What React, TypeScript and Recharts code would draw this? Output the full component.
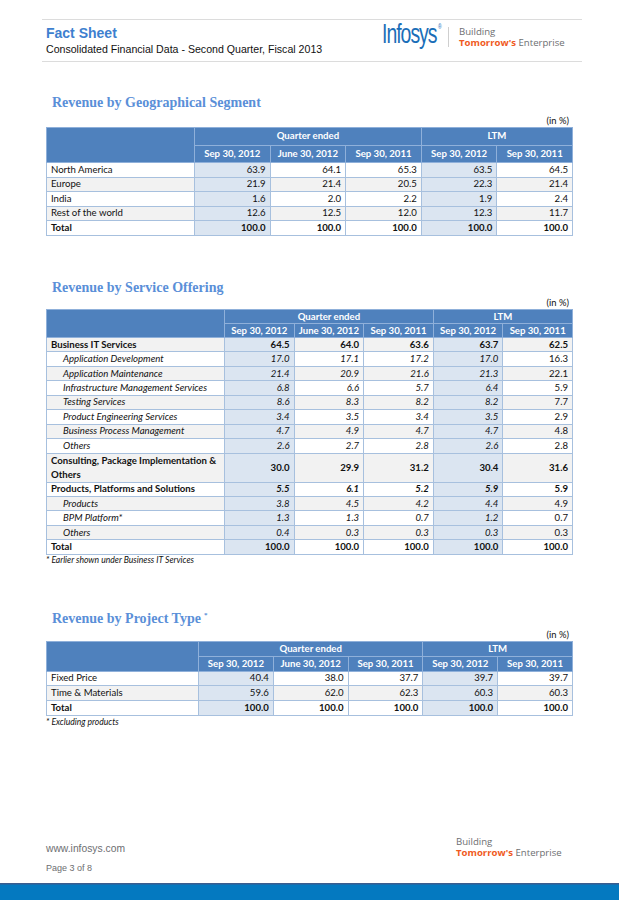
import React from 'react'
import { Surface, Rectangle } from 'recharts'

const PERIOD_GROUPS = ['Quarter ended', 'LTM']
const PERIODS = ['Sep 30, 2012', 'June 30, 2012', 'Sep 30, 2011', 'Sep 30, 2012', 'Sep 30, 2011']

const GEO_LABELS = ['North America', 'Europe', 'India', 'Rest of the world', 'Total']
const GEO_VALUES = [
  [63.9, 64.1, 65.3, 63.5, 64.5],
  [21.9, 21.4, 20.5, 22.3, 21.4],
  [1.6, 2.0, 2.2, 1.9, 2.4],
  [12.6, 12.5, 12.0, 12.3, 11.7],
  [100.0, 100.0, 100.0, 100.0, 100.0],
]
const GEO_LEVELS = ['plain', 'plain', 'plain', 'plain', 'total']

const SERVICE_LABELS = [
  'Business IT Services',
  'Application Development',
  'Application Maintenance',
  'Infrastructure Management Services',
  'Testing Services',
  'Product Engineering Services',
  'Business Process Management',
  'Others',
  'Consulting, Package Implementation & Others',
  'Products, Platforms and Solutions',
  'Products',
  'BPM Platform*',
  'Others',
  'Total',
]
const SERVICE_VALUES = [
  [64.5, 64.0, 63.6, 63.7, 62.5],
  [17.0, 17.1, 17.2, 17.0, 16.3],
  [21.4, 20.9, 21.6, 21.3, 22.1],
  [6.8, 6.6, 5.7, 6.4, 5.9],
  [8.6, 8.3, 8.2, 8.2, 7.7],
  [3.4, 3.5, 3.4, 3.5, 2.9],
  [4.7, 4.9, 4.7, 4.7, 4.8],
  [2.6, 2.7, 2.8, 2.6, 2.8],
  [30.0, 29.9, 31.2, 30.4, 31.6],
  [5.5, 6.1, 5.2, 5.9, 5.9],
  [3.8, 4.5, 4.2, 4.4, 4.9],
  [1.3, 1.3, 0.7, 1.2, 0.7],
  [0.4, 0.3, 0.3, 0.3, 0.3],
  [100.0, 100.0, 100.0, 100.0, 100.0],
]
const SERVICE_LEVELS = [
  'group', 'item', 'item', 'item', 'item', 'item', 'item', 'item',
  'group2', 'groupItalic', 'item', 'item', 'item', 'total',
]

const PROJECT_LABELS = ['Fixed Price', 'Time & Materials', 'Total']
const PROJECT_VALUES = [
  [40.4, 38.0, 37.7, 39.7, 39.7],
  [59.6, 62.0, 62.3, 60.3, 60.3],
  [100.0, 100.0, 100.0, 100.0, 100.0],
]
const PROJECT_LEVELS = ['plain', 'plain', 'total']

const BLUE = '#4f81bd'
const GRID = '#a7c0de'
const HEAD_GRID = '#8fb0da'
const HILITE = '#dbe5f1'
const ZEBRA = '#f2f2f2'
const CELL_FONT = 'Lato, "Open Sans", sans-serif'

// split a long label so the last word goes to the second line
function twoLines(lab: string) {
  const cut = lab.lastIndexOf(' ')
  return (
    <>
      {lab.slice(0, cut)}
      <br />
      {lab.slice(cut + 1)}
    </>
  )
}

function DataTable({ labels, values, levels, top, labelWidth, headH, rowH }: any) {
  const n = labels.length
  const cell = {
    border: `1px solid ${GRID}`, padding: '0 4px', whiteSpace: 'nowrap' as const,
    lineHeight: '12px', boxSizing: 'border-box' as const,
  }
  const head = { ...cell, borderColor: HEAD_GRID, textAlign: 'center' as const }
  return (
    <table
      style={{
        position: 'absolute', left: 46, top, width: 527, tableLayout: 'fixed',
        borderCollapse: 'collapse', fontFamily: CELL_FONT, fontSize: 9.6, color: '#111',
        border: `1.5px solid ${GRID}`,
      }}
    >
      <colgroup>
        <col style={{ width: labelWidth }} />
        {PERIODS.map((_, i) => <col key={i} />)}
      </colgroup>
      <thead>
        <tr style={{ height: headH, background: BLUE, color: '#fff', fontWeight: 700 }}>
          <th rowSpan={2} style={head} />
          <th colSpan={3} style={head}>{PERIOD_GROUPS[0]}</th>
          <th colSpan={2} style={head}>{PERIOD_GROUPS[1]}</th>
        </tr>
        <tr style={{ height: headH, background: BLUE, color: '#fff', fontWeight: 700 }}>
          {PERIODS.map((p, i) => (
            <th key={i} style={head}>{p}</th>
          ))}
        </tr>
      </thead>
      <tbody>
        {labels.map((lab: string, r: number) => {
          const lv = levels[r]
          const gray = (n - 1 - r) % 2 === 1
          const bold = lv === 'group' || lv === 'group2' || lv === 'groupItalic' || lv === 'total'
          const italicRow = lv === 'item' || lv === 'groupItalic'
          const wrap = lv === 'group2'
          return (
            <tr key={r} style={{ height: wrap ? rowH * 2 - 1 : rowH, background: gray ? ZEBRA : '#fff' }}>
              <td
                style={{
                  ...cell,
                  lineHeight: wrap ? '14px' : '12px',
                  paddingLeft: lv === 'item' ? 16 : 4,
                  fontWeight: bold ? 700 : 400,
                  fontStyle: lv === 'item' ? 'italic' : 'normal',
                }}
              >
                {wrap ? twoLines(lab) : lab}
              </td>
              {values[r].map((v: number, c: number) => (
                <td
                  key={c}
                  style={{
                    ...cell, textAlign: 'right',
                    background: c === 0 || c === 3 ? HILITE : undefined,
                    fontWeight: bold ? 700 : 400,
                    fontStyle: italicRow && c < 4 ? 'italic' : 'normal',
                  }}
                >
                  {v.toFixed(1)}
                </td>
              ))}
            </tr>
          )
        })}
      </tbody>
    </table>
  )
}

function SectionTitle({ text, top, star }: any) {
  return (
    <div
      style={{
        position: 'absolute', left: 52, top, fontFamily: '"Liberation Serif", serif',
        fontWeight: 700, fontSize: 14, color: '#5a8fd8', whiteSpace: 'nowrap',
      }}
    >
      {text}
      {star && <sup style={{ fontSize: 7, marginLeft: 3 }}>*</sup>}
    </div>
  )
}

function Unit({ top }: any) {
  return (
    <div style={{ position: 'absolute', right: 619 - 569, top, fontFamily: CELL_FONT, fontSize: 9.4, color: '#111' }}>
      (in %)
    </div>
  )
}

function Tagline({ left, top }: any) {
  const font = { position: 'absolute' as const, left, fontFamily: '"Open Sans", sans-serif', fontSize: 9.6, lineHeight: '10px', color: '#6d6e71', whiteSpace: 'nowrap' as const }
  return (
    <>
      <div style={{ ...font, top }}>Building</div>
      <div style={{ ...font, top: top + 11 }}>
        <span style={{ color: '#f05a22', fontWeight: 700 }}>Tomorrow's</span> Enterprise
      </div>
    </>
  )
}

export default function App() {
  return (
    <div style={{ position: 'absolute', left: 0, top: 0, width: 619, height: 900, background: '#fff', overflow: 'hidden' }}>
      {/* header band */}
      <div style={{ position: 'absolute', left: 42, top: 19, width: 540, height: 1, background: '#dcdcdc' }} />
      <div style={{ position: 'absolute', left: 42, top: 61, width: 540, height: 1, background: '#dcdcdc' }} />
      <div style={{ position: 'absolute', left: 46, top: 25, fontFamily: '"Liberation Sans", Arial, sans-serif', fontWeight: 700, fontSize: 14, color: '#3e7fcf' }}>
        Fact Sheet
      </div>
      <div style={{ position: 'absolute', left: 46, top: 43, fontFamily: '"Liberation Sans", Arial, sans-serif', fontSize: 10.6, color: '#111' }}>
        Consolidated Financial Data - Second Quarter, Fiscal 2013
      </div>
      <div
        style={{
          position: 'absolute', left: 382, top: 19, fontFamily: '"Liberation Sans Narrow", "Liberation Sans", sans-serif',
          fontSize: 27, color: '#1a6eb8', letterSpacing: -1.4, transform: 'scaleX(0.72)', transformOrigin: 'left top',
          whiteSpace: 'nowrap',
        }}
      >
        Infosys<sup style={{ fontSize: 7, verticalAlign: 14, marginLeft: 2 }}>®</sup>
      </div>
      <div style={{ position: 'absolute', left: 448, top: 27, width: 1, height: 20, background: '#cfcfcf' }} />
      <Tagline left={459} top={27} />

      <SectionTitle text="Revenue by Geographical Segment" top={95} />
      <Unit top={115} />
      <DataTable labels={GEO_LABELS} values={GEO_VALUES} levels={GEO_LEVELS} top={127} labelWidth={148} headH={17.5} rowH={14.5} />

      <SectionTitle text="Revenue by Service Offering" top={280} />
      <Unit top={297} />
      <DataTable labels={SERVICE_LABELS} values={SERVICE_VALUES} levels={SERVICE_LEVELS} top={309} labelWidth={178} headH={14} rowH={14.45} />
      <div style={{ position: 'absolute', left: 46, top: 555, fontFamily: CELL_FONT, fontSize: 8.6, fontStyle: 'italic', color: '#111' }}>
        * Earlier shown under Business IT Services
      </div>

      <SectionTitle text="Revenue by Project Type" top={611} star />
      <Unit top={629} />
      <DataTable labels={PROJECT_LABELS} values={PROJECT_VALUES} levels={PROJECT_LEVELS} top={641} labelWidth={152} headH={14.8} rowH={14.7} />
      <div style={{ position: 'absolute', left: 46, top: 717, fontFamily: CELL_FONT, fontSize: 8.6, fontStyle: 'italic', color: '#111' }}>
        * Excluding products
      </div>

      {/* footer */}
      <div style={{ position: 'absolute', left: 46, top: 843, fontFamily: '"Liberation Sans", Arial, sans-serif', fontSize: 10.3, color: '#6d6e71' }}>
        www.infosys.com
      </div>
      <div style={{ position: 'absolute', left: 46, top: 863, fontFamily: '"Liberation Sans", Arial, sans-serif', fontSize: 9, color: '#6d6e71' }}>
        Page 3 of 8
      </div>
      <Tagline left={456} top={837} />
      <div style={{ position: 'absolute', left: 0, top: 883 }}>
        <Surface width={619} height={17}>
          <Rectangle x={0} y={0} width={619} height={17} fill="#0479c0" />
          <Rectangle x={0} y={0} width={619} height={1.5} fill="#3a5d8f" />
        </Surface>
      </div>
    </div>
  )
}
